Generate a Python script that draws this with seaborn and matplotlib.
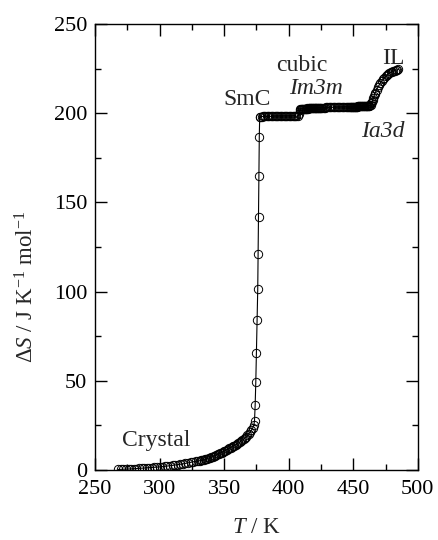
import pandas as pd
import matplotlib
matplotlib.use('Agg')
import matplotlib.pyplot as plt
import seaborn as sns
from matplotlib.ticker import MultipleLocator

# entropy curve
crystal_T = [268, 270, 272, 274, 276, 278, 280, 282, 284, 286, 288, 290, 292, 294, 296, 298,
             300, 302, 304, 306, 308, 310, 312, 314, 316, 318, 320, 322, 324, 326, 328, 330,
             331, 332, 333, 334, 335, 336, 337, 338, 339, 340, 341, 342, 343, 344, 345, 346,
             347, 348, 349, 350, 351, 352, 353, 354, 355, 356, 357, 358, 359, 360, 361, 362,
             363, 364, 365, 366, 367, 368, 369, 370, 371, 372, 373]
crystal_S = [0.3, 0.4, 0.45, 0.5, 0.55, 0.6, 0.7, 0.8, 0.85, 0.95, 1.05, 1.15, 1.25, 1.35, 1.5, 1.6,
             1.75, 1.9, 2.05, 2.2, 2.4, 2.6, 2.8, 3.0, 3.2, 3.45, 3.7, 4.0, 4.3, 4.6, 4.9, 5.1,
             5.2, 5.4, 5.6, 5.8, 6.0, 6.2, 6.45, 6.7, 6.95, 7.2, 7.5, 7.8, 8.1, 8.4, 8.7, 9.1,
             9.4, 9.75, 10.1, 10.5, 10.9, 11.3, 11.7, 12.1, 12.5, 12.9, 13.3, 13.7, 14.1, 14.6, 15.1, 15.6,
             16.1, 16.7, 17.3, 18.0, 18.7, 19.5, 20.3, 21.2, 22.2, 23.4, 25.2]

melt_T = [373.5, 374, 374.5, 375, 375.5, 376, 376.3, 376.6, 376.9, 377.2]
melt_S = [27.6, 36.4, 49.5, 65.7, 84.0, 101.5, 121.0, 142.0, 164.8, 186.8]

smc_T = [377.5, 378, 379, 380, 381, 382, 383, 384, 385, 386, 387, 388, 389, 390, 391, 392,
         393, 394, 395, 396, 397, 398, 399, 400, 401, 402, 403, 404, 405, 406, 407, 408, 408.5]
smc_S = [197.9, 198.0, 198.1, 198.2, 198.2, 198.3, 198.2, 198.3, 198.3, 198.2, 198.3, 198.4, 198.3, 198.3, 198.4, 198.3,
         198.4, 198.4, 198.3, 198.4, 198.4, 198.5, 198.4, 198.4, 198.5, 198.4, 198.5, 198.5, 198.4, 198.3, 198.2, 199.8, 201.6]

cubic_T = [409, 409.5, 410, 410.5, 411, 411.5, 412, 412.5, 413, 413.5, 414, 414.5, 415, 415.5, 416, 416.5,
           417, 417.5, 418, 418.5, 419, 419.5, 420, 420.5, 421, 421.5, 422, 422.5, 423, 423.5, 424, 424.5, 425,
           426, 427, 428, 429, 430, 431, 432, 433, 434, 435, 436, 437, 438, 439, 440, 441, 442, 443, 444, 445, 446, 447,
           447.5, 448, 448.5, 449, 449.5, 450, 450.5, 451, 451.5, 452, 452.5, 453, 453.5, 454, 454.5, 455,
           455.5, 456, 456.5, 457, 457.5, 458, 458.5, 459, 459.5, 460, 460.5, 461, 461.5, 462, 462.5, 463]
cubic_S = [202.3, 202.4, 202.4, 202.5, 202.5, 202.5, 202.6, 202.5, 202.6, 202.6, 202.6, 202.7, 202.6, 202.7, 202.7, 202.7,
           202.8, 202.7, 202.8, 202.8, 202.8, 202.9, 202.8, 202.9, 202.9, 202.9, 203.0, 202.9, 203.0, 203.0, 203.0, 203.0, 203.1,
           203.1, 203.1, 203.1, 203.2, 203.2, 203.2, 203.2, 203.3, 203.3, 203.3, 203.3, 203.3, 203.4, 203.4, 203.4, 203.4, 203.4, 203.5, 203.5, 203.5, 203.5, 203.5,
           203.5, 203.6, 203.6, 203.6, 203.6, 203.6, 203.7, 203.7, 203.7, 203.7, 203.7, 203.7, 203.8, 203.8, 203.8, 203.8,
           203.8, 203.8, 203.8, 203.9, 203.9, 203.9, 203.9, 203.9, 203.9, 204.0, 204.0, 204.0, 204.0, 204.1, 204.2, 204.4]

il_T = [463.5, 464, 464.5, 465, 465.5, 466, 466.5, 467, 468, 469, 470, 471, 472, 473, 474, 475,
        476, 477, 478, 479, 480, 481, 482, 483, 484, 485]
il_S = [204.8, 205.5, 206.5, 207.5, 208.5, 209.5, 210.5, 211.5, 213.0, 214.5, 215.8, 217.0, 218.0, 219.0, 219.9, 220.7,
        221.4, 222.0, 222.5, 222.9, 223.3, 223.6, 223.9, 224.1, 224.3, 224.5]

df = pd.DataFrame({
    'T': crystal_T + melt_T + smc_T + cubic_T + il_T,
    'S': crystal_S + melt_S + smc_S + cubic_S + il_S,
})

sns.set_style('ticks')
plt.rcParams['font.family'] = ['Liberation Serif', 'DejaVu Serif']
plt.rcParams['mathtext.fontset'] = 'custom'
plt.rcParams['mathtext.rm'] = 'Liberation Serif'
plt.rcParams['mathtext.it'] = 'Liberation Serif:italic'

fig = plt.figure(figsize=(4.38, 5.4), dpi=100)
ax = fig.add_axes([0.217, 0.1296, 0.737, 0.826])

sns.lineplot(data=df, x='T', y='S', sort=False, estimator=None, ax=ax,
             color='black', lw=0.8, marker='o', markersize=6,
             markerfacecolor='none', markeredgecolor='black', markeredgewidth=0.7)

ax.set_xlim(250, 500)
ax.set_ylim(0, 250)
ax.xaxis.set_major_locator(MultipleLocator(50))
ax.xaxis.set_minor_locator(MultipleLocator(25))
ax.yaxis.set_major_locator(MultipleLocator(50))
ax.yaxis.set_minor_locator(MultipleLocator(25))
ax.tick_params(which='both', direction='in', top=True, right=True, width=1.0, colors='black')
ax.tick_params(which='major', length=8.5)
ax.tick_params(which='minor', length=4.5)
ax.tick_params(axis='x', which='major', labelsize=16, pad=7)
ax.tick_params(axis='y', which='major', labelsize=16, pad=5.5)
for s in ax.spines.values():
    s.set_linewidth(1.0)
    s.set_color('black')

ax.set_xlabel(r'$T$ / K', fontsize=16.5)
ax.set_ylabel(r'$\Delta S$ / J K$^{-1}$ mol$^{-1}$', fontsize=16.5)
ax.xaxis.set_label_coords(0.5, -0.128)
ax.xaxis.label.set_va('center')
ax.yaxis.set_label_coords(-0.21, 0.41)
ax.yaxis.label.set_va('center')

ax.text(297, 16.3, 'Crystal', fontsize=17, ha='center', va='center')
ax.text(368, 207.4, 'SmC', fontsize=17, ha='center', va='center')
ax.text(410.5, 227, 'cubic', fontsize=17, ha='center', va='center')
ax.text(421, 214, 'Im3m', fontsize=17, ha='center', va='center', style='italic')
ax.text(480.7, 230.4, 'IL', fontsize=17, ha='center', va='center')
ax.text(473, 189.5, 'Ia3d', fontsize=17, ha='center', va='center', style='italic')

fig.savefig('out.png', dpi=100)
